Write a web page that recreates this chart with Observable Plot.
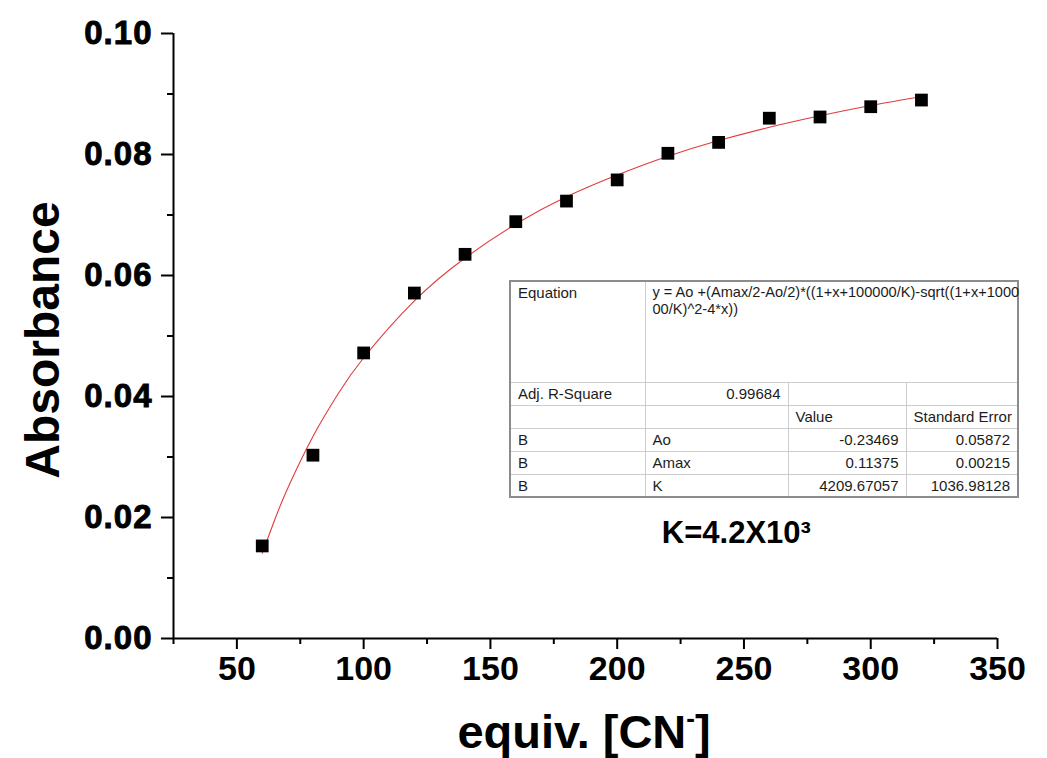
<!DOCTYPE html>
<html>
<head>
<meta charset="utf-8">
<script src="https://cdn.jsdelivr.net/npm/d3@7"></script>
<script src="https://cdn.jsdelivr.net/npm/@observablehq/plot@0.6"></script>
<style>
  html, body { margin: 0; padding: 0; background: #fff; }
  #wrap { position: relative; width: 1047px; height: 758px; }
  #wrap svg { position: absolute; left: 0; top: 0; overflow: visible; }
  table.fit {
    position: absolute; left: 509px; top: 280px; width: 508px;
    border-collapse: collapse; table-layout: fixed;
    border: 2px solid #8c8c8c;
    font-family: "Liberation Sans", Arial, sans-serif; font-size: 15px; color: #1c1c1c;
    background: #fff;
  }
  table.fit td { border: 1px solid #cdcdcd; padding: 1px 7px; vertical-align: top; overflow: visible; white-space: nowrap; line-height: 19px; }
  table.fit td.r { text-align: right; }
  table.fit td.eq { font-size: 14.6px; line-height: 17px; padding-top: 2px; }
  g[aria-label="y-axis tick label"] text { stroke: black; stroke-width: 0.9px; letter-spacing: 1px; }
</style>
</head>
<body>
<div id="wrap"></div>
<script>
// measured points
const equiv = [60, 80, 100, 120, 140, 160, 180, 200, 220, 240, 260, 280, 300, 320];
const absorbance = [0.0153, 0.0303, 0.0472, 0.0571, 0.0635, 0.0689, 0.0723, 0.0758, 0.0802, 0.0820, 0.0860, 0.0862, 0.0879, 0.0890];

// red fit curve
const fitX = [60, 65, 70, 80, 90, 100, 120, 140, 160, 180, 200, 220, 240, 260, 280, 300, 320];
const fitY = [0.0141, 0.0197, 0.0248, 0.0334, 0.0405, 0.0464, 0.0558, 0.0629, 0.0685, 0.0730, 0.0766, 0.0797, 0.0823, 0.0845, 0.0864, 0.0881, 0.0896];

// ticks
const xMajor = [50, 100, 150, 200, 250, 300, 350];
const xMinor = [25, 75, 125, 175, 225, 275, 325];
const yMajor = [0, 0.02, 0.04, 0.06, 0.08, 0.10];
const yMinor = [0.01, 0.03, 0.05, 0.07, 0.09];

// fit table
const eqLines = ["y = Ao +(Amax/2-Ao/2)*((1+x+100000/K)-sqrt((1+x+1000", "00/K)^2-4*x))"];
const adjR2 = "0.99684";
const paramNames = ["Ao", "Amax", "K"];
const paramValues = ["-0.23469", "0.11375", "4209.67057"];
const paramErrors = ["0.05872", "0.00215", "1036.98128"];

const points = equiv.map((x, i) => ({x, y: absorbance[i]}));
const fit = fitX.map((x, i) => ({x, y: fitY[i]}));

const FONT = "Liberation Sans, Arial, sans-serif";

const plot = Plot.plot({
  width: 1047,
  height: 758,
  marginLeft: 173,
  marginRight: 50,
  marginTop: 33,
  marginBottom: 120,
  style: {background: "transparent", color: "black", fontFamily: FONT},
  x: {domain: [25, 350]},
  y: {domain: [0, 0.1]},
  marks: [
    Plot.axisY({ticks: yMajor, tickSize: 12, tickPadding: 9, tickFormat: d3.format(".2f"),
      fontSize: 33, fontWeight: "bold", strokeWidth: 2, label: null}),
    Plot.axisY({ticks: yMinor, tickSize: 6, tickFormat: () => "", strokeWidth: 2, label: null}),
    Plot.axisX({ticks: xMajor, tickSize: 11, tickPadding: 6, tickFormat: d3.format("d"),
      fontSize: 34, fontWeight: "bold", strokeWidth: 2, label: null}),
    Plot.axisX({ticks: xMinor, tickSize: 6, tickFormat: () => "", strokeWidth: 2, label: null}),
    Plot.ruleX([25], {y1: 0, y2: 0.1, stroke: "black", strokeWidth: 2}),
    Plot.ruleY([0], {x1: 25, x2: 350, stroke: "black", strokeWidth: 2}),
    Plot.line(fit, {x: "x", y: "y", stroke: "#e23b3b", strokeWidth: 1.1, curve: "natural"}),
    Plot.dot(points, {x: "x", y: "y", symbol: "square", r: 7.2, fill: "black", stroke: "none"}),
    Plot.text(["K=4.2X10³"], {x: 247, y: 0.0158, lineAnchor: "bottom", textAnchor: "middle",
      fontSize: 31, fontWeight: "bold", fill: "black"})
  ]
});

const wrap = document.getElementById("wrap");
wrap.appendChild(plot);

// axis titles
const svg = d3.select(plot);
svg.append("text")
  .attr("transform", "translate(59,340) rotate(-90)")
  .attr("text-anchor", "middle")
  .attr("font-family", FONT).attr("font-weight", "bold").attr("font-size", 48)
  .attr("fill", "black")
  .text("Absorbance");
const xt = svg.append("text")
  .attr("x", 584).attr("y", 748)
  .attr("text-anchor", "middle")
  .attr("font-family", FONT).attr("font-weight", "bold").attr("font-size", 47)
  .attr("fill", "black");
xt.append("tspan").text("equiv. [CN");
xt.append("tspan").attr("dy", -21).attr("font-size", 26).text("-");
xt.append("tspan").attr("dy", 21).text("]");

// fit table
const rows = [];
rows.push(`<tr style="height:101px"><td>Equation</td><td class="eq" colspan="3">${eqLines.join("<br>")}</td></tr>`);
rows.push(`<tr style="height:23px"><td>Adj. R-Square</td><td class="r">${adjR2}</td><td></td><td></td></tr>`);
rows.push(`<tr style="height:23px"><td></td><td></td><td>Value</td><td>Standard Error</td></tr>`);
paramNames.forEach((n, i) => {
  rows.push(`<tr style="height:23px"><td>B</td><td>${n}</td><td class="r">${paramValues[i]}</td><td class="r">${paramErrors[i]}</td></tr>`);
});
const table = document.createElement("table");
table.className = "fit";
table.innerHTML = `<colgroup><col style="width:135px"><col style="width:143px"><col style="width:118px"><col style="width:112px"></colgroup>` + rows.join("");
wrap.appendChild(table);
</script>
</body>
</html>
